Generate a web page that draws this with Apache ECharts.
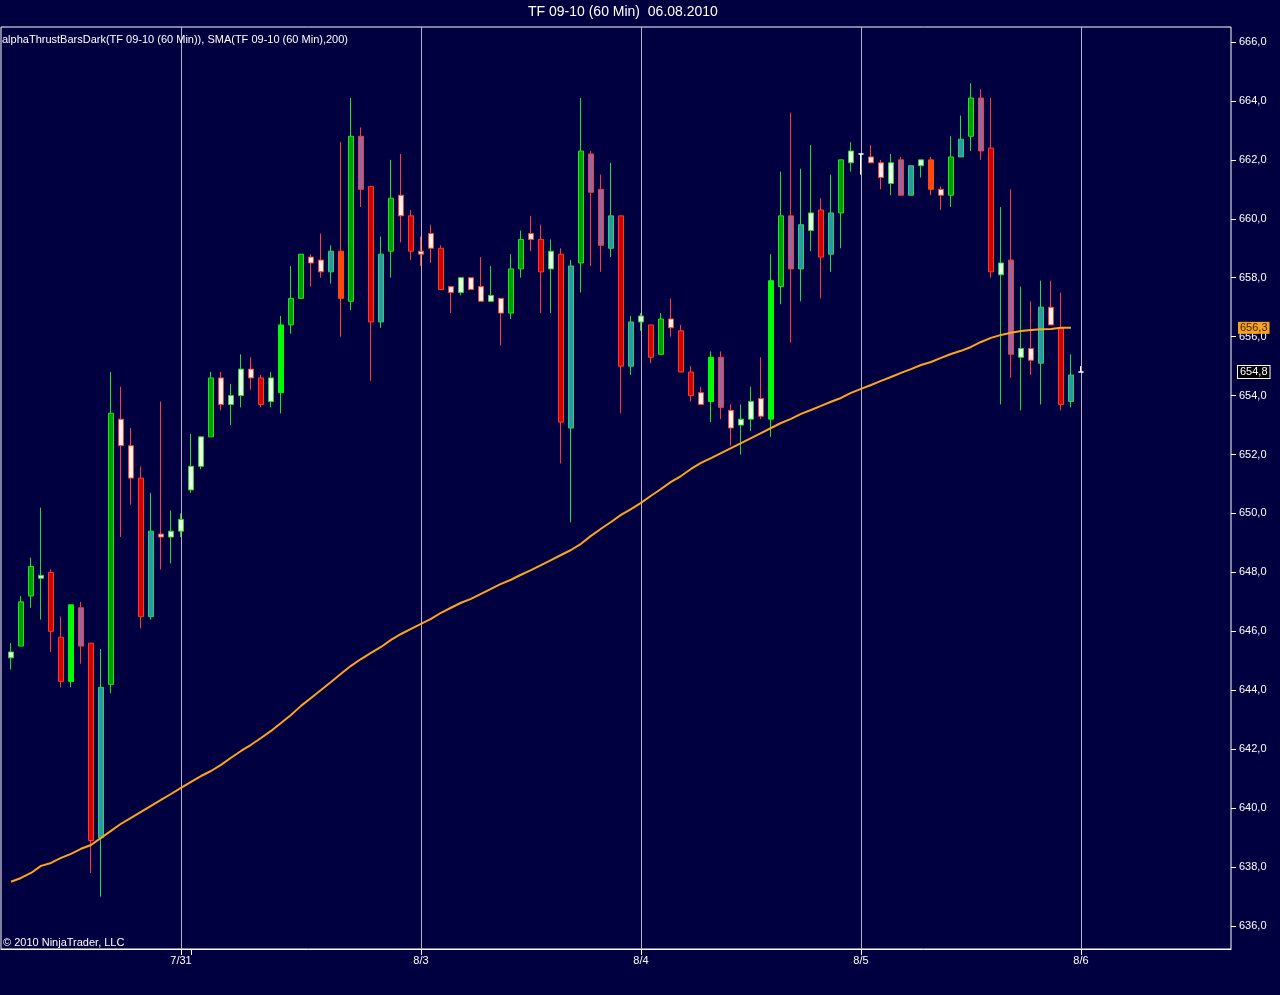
<!DOCTYPE html>
<html>
<head>
<meta charset="utf-8">
<title>TF 09-10 (60 Min)  06.08.2010</title>
<script src="https://cdn.jsdelivr.net/npm/echarts@6/dist/echarts.min.js"></script>
<style>
    html, body { margin: 0; padding: 0; background: #000040; }
    #chart { width: 1280px; height: 995px; }
</style>
</head>
<body>
<div id="chart"></div>
<script>
// TF 09-10, 60 min bars, 7/30 .. 8/6 (last bar just opened)
var opens = [
    645.1, 645.5, 647.2, 647.8, 648.0, 645.8, 644.3, 646.8, 645.6, 639.0,
    644.2, 653.2, 652.3, 651.2, 646.5, 649.3, 649.2, 649.4, 650.8, 651.6,
    652.6, 654.6, 653.7, 654.0, 654.9, 654.6, 653.8, 654.1, 656.4, 657.3,
    658.7, 658.6, 658.2, 658.9, 657.2, 662.8, 661.1, 656.5, 658.9, 660.8,
    660.1, 658.9, 659.5, 659.0, 657.7, 657.5, 658.0, 657.7, 657.2, 657.3,
    656.8, 658.3, 659.5, 659.3, 658.3, 658.8, 652.9, 658.5, 662.2, 661.0,
    659.0, 660.1, 655.0, 656.5, 656.4, 655.4, 656.6, 656.2, 654.8, 654.1,
    653.8, 655.3, 653.5, 653.0, 653.2, 653.9, 653.2, 657.7, 660.1, 658.3,
    659.6, 660.3, 658.8, 660.2, 661.9, 662.2, 662.1, 661.9, 661.2, 662.0,
    660.8, 661.8, 662.0, 661.0, 660.8, 662.1, 662.8, 664.1, 662.4, 658.1,
    658.6, 655.3, 655.6, 655.1, 657.0, 656.3, 653.8, 654.8
];
var closes = [
    645.3, 647.0, 648.2, 647.9, 646.0, 644.3, 646.9, 645.5, 638.9, 644.1,
    653.4, 652.3, 651.2, 646.5, 649.4, 649.2, 649.4, 649.8, 651.6, 652.6,
    654.6, 653.7, 654.0, 654.9, 654.6, 653.7, 654.6, 656.4, 657.3, 658.8,
    658.5, 658.2, 658.9, 657.3, 662.8, 661.0, 656.5, 658.8, 660.7, 660.1,
    658.9, 658.8, 659.0, 657.6, 657.5, 658.0, 657.6, 657.2, 657.4, 656.8,
    658.3, 659.3, 659.3, 658.2, 658.9, 653.1, 658.4, 662.3, 660.9, 659.1,
    660.1, 655.0, 656.5, 656.7, 655.3, 656.6, 656.3, 654.8, 654.0, 653.7,
    655.3, 653.6, 652.9, 653.2, 653.8, 653.3, 657.9, 660.1, 658.3, 659.8,
    660.2, 658.7, 660.2, 662.0, 662.3, 662.2, 661.9, 661.4, 661.9, 660.8,
    661.8, 662.0, 661.0, 660.8, 662.1, 662.7, 664.1, 662.3, 658.2, 658.5,
    655.4, 655.6, 655.2, 657.0, 656.4, 653.7, 654.7, 654.8
];
var highs = [
    645.6, 647.2, 648.5, 650.2, 648.1, 646.5, 646.9, 647.0, 645.6, 645.4,
    654.8, 654.3, 652.9, 651.6, 650.7, 653.8, 650.1, 650.0, 652.7, 652.6,
    654.8, 654.8, 654.4, 655.4, 655.3, 654.7, 654.8, 656.7, 658.4, 658.8,
    658.8, 659.5, 659.1, 662.6, 664.1, 663.1, 661.1, 659.4, 662.0, 662.2,
    660.3, 659.4, 659.8, 659.1, 657.7, 658.0, 658.0, 658.7, 658.4, 657.3,
    658.8, 659.6, 660.1, 659.8, 659.3, 659.0, 658.6, 664.1, 662.3, 661.5,
    661.9, 660.1, 656.7, 656.8, 656.4, 656.8, 657.3, 656.4, 655.0, 654.3,
    655.5, 655.5, 653.7, 653.7, 654.3, 655.3, 658.8, 661.6, 663.6, 661.7,
    662.5, 660.7, 661.5, 662.0, 662.6, 662.2, 662.5, 662.0, 662.2, 662.1,
    661.8, 662.0, 662.1, 661.1, 662.8, 663.5, 664.6, 664.4, 664.1, 660.4,
    661.0, 657.7, 657.2, 657.9, 657.9, 657.5, 655.4, 655.0
];
var lows = [
    644.7, 645.5, 646.8, 646.4, 645.3, 644.1, 644.1, 644.9, 637.8, 637.0,
    643.9, 649.2, 650.3, 646.1, 646.4, 648.1, 648.3, 649.2, 650.7, 651.5,
    652.6, 653.5, 653.0, 653.6, 654.2, 653.6, 653.6, 653.4, 656.1, 657.3,
    657.7, 658.0, 657.8, 656.0, 656.9, 660.4, 654.5, 656.3, 658.0, 659.2,
    658.6, 658.4, 658.5, 657.6, 656.8, 657.4, 657.6, 657.2, 657.2, 655.7,
    656.6, 658.0, 658.9, 656.8, 656.8, 651.7, 649.7, 657.5, 658.4, 658.2,
    658.7, 653.4, 654.7, 656.2, 655.1, 655.4, 656.0, 654.8, 653.8, 653.7,
    653.1, 653.2, 652.3, 652.0, 652.8, 653.2, 652.6, 657.1, 655.8, 657.2,
    658.9, 657.3, 658.2, 659.0, 661.6, 661.5, 661.9, 661.0, 660.8, 660.8,
    660.8, 661.4, 660.8, 660.3, 660.4, 662.1, 662.3, 662.0, 658.0, 653.7,
    654.6, 653.5, 654.7, 653.7, 656.4, 653.5, 653.6, 654.8
];
// alphaThrust class of every bar (G strong up, L lime, W small up, T teal up,
// R down, O orange down, w small down, P purple down, D doji)
var thrustClass = [
    'W','G','G','W','R','R','L','P','R','T',
    'G','w','w','R','T','w','W','W','W','W',
    'G','w','W','W','w','R','W','L','G','G',
    'w','w','T','O','G','P','R','T','G','w',
    'R','w','w','R','w','W','w','w','W','w',
    'G','G','w','R','W','R','T','G','P','P',
    'T','R','T','W','R','G','w','R','R','w',
    'L','P','w','W','W','w','L','G','P','T',
    'W','R','T','G','W','D','w','w','W','P',
    'T','W','O','w','G','T','G','P','R','W',
    'P','W','w','T','w','R','T','D'
];
// SMA(200) value under each bar
var sma200 = [
    637.50, 637.63, 637.80, 638.04, 638.14, 638.31, 638.45, 638.62, 638.75, 638.99,
    639.23, 639.47, 639.67, 639.87, 640.08, 640.28, 640.48, 640.69, 640.89, 641.09,
    641.26, 641.47, 641.71, 641.94, 642.15, 642.38, 642.62, 642.89, 643.16, 643.47,
    643.74, 644.01, 644.28, 644.56, 644.83, 645.06, 645.27, 645.47, 645.71, 645.91,
    646.08, 646.25, 646.42, 646.63, 646.80, 646.97, 647.10, 647.27, 647.44, 647.61,
    647.75, 647.92, 648.08, 648.25, 648.42, 648.59, 648.76, 648.97, 649.24, 649.48,
    649.71, 649.95, 650.15, 650.36, 650.60, 650.83, 651.07, 651.27, 651.51, 651.72,
    651.88, 652.05, 652.22, 652.39, 652.56, 652.73, 652.90, 653.07, 653.21, 653.38,
    653.51, 653.65, 653.79, 653.92, 654.09, 654.23, 654.36, 654.50, 654.63, 654.77,
    654.90, 655.04, 655.14, 655.28, 655.41, 655.52, 655.65, 655.82, 655.96, 656.06,
    656.13, 656.19, 656.23, 656.25, 656.26, 656.30, 656.30
];
// session start bars labelled on the time axis (slot 0 is left empty)
var dateSlots = [18, 42, 64, 86, 108];
var dateLabels = ['7/31', '8/3', '8/4', '8/5', '8/6'];
var extraTickSlots = [19];
var slotCount = 124;

var font = "'Liberation Sans', Arial, sans-serif";
var palette = {
    G: { fill: '#009c00', border: '#22e022' },
    L: { fill: '#00ff00', border: '#10f010' },
    W: { fill: '#f4fff4', border: '#22dd22' },
    T: { fill: '#3390b8', border: '#22dd44' },
    R: { fill: '#c80800', border: '#ff3a2a' },
    O: { fill: '#ff4810', border: '#ff4810' },
    w: { fill: '#fff4f0', border: '#ff4030' },
    P: { fill: '#8a6cae', border: '#ff3a2a' },
    D: { fill: '#ffffff', border: '#ffffff' }
};

var categories = [];
for (var k = 0; k < slotCount; k++) {
    var d = dateSlots.indexOf(k);
    categories.push(d >= 0 ? dateLabels[d] : String(k));
}
function isDateSlot(index) {
    return dateSlots.indexOf(index) >= 0;
}

var candles = opens.map(function(o, i) {
    var c = palette[thrustClass[i]];
    return {
        value: [i + 1, o, closes[i], lows[i], highs[i]],
        itemStyle: { color: c.fill, color0: c.fill, borderColor: c.border, borderColor0: c.border }
    };
});
var smaLine = sma200.map(function(v, i) { return [i + 1, v]; });

function comma(v) {
    return v.toFixed(1).replace('.', ',');
}

var myChart = echarts.init(document.getElementById('chart'));
var option = {
    backgroundColor: '#000040',
    animation: false,
    title: [{
        text: 'TF 09-10 (60 Min)  06.08.2010',
        left: 528, top: 5, padding: 0,
        textStyle: { color: '#ffffff', fontSize: 14, fontWeight: 'normal', fontFamily: font }
    }, {
        text: 'alphaThrustBarsDark(TF 09-10 (60 Min)), SMA(TF 09-10 (60 Min),200)',
        left: 2, top: 34, padding: 0,
        textStyle: { color: '#ffffff', fontSize: 11, fontWeight: 'normal', fontFamily: font }
    }, {
        text: '\u00a9 2010 NinjaTrader, LLC',
        left: 3, top: 937, padding: 0,
        textStyle: { color: '#ffffff', fontSize: 11, fontWeight: 'normal', fontFamily: font }
    }],
    grid: [
        // frame panel: border, time axis, session lines
        { left: 1, right: 49, top: 27, bottom: 46, show: true, borderColor: '#ffffff', borderWidth: 1 },
        // price panel
        { left: 1, right: 49, top: 42, bottom: 69 }
    ],
    xAxis: [{
        type: 'category',
        gridIndex: 0,
        data: categories,
        boundaryGap: false,
        axisLine: { lineStyle: { color: '#ffffff' } },
        axisTick: {
            interval: function(index) { return isDateSlot(index) || extraTickSlots.indexOf(index) >= 0; },
            length: 6,
            lineStyle: { color: '#ffffff' }
        },
        axisLabel: {
            interval: isDateSlot,
            color: '#ffffff',
            fontSize: 11,
            fontFamily: font,
            margin: 6,
            formatter: function(value) {
                return dateLabels.indexOf(value) >= 0 ? value : '';
            }
        },
        splitLine: { show: true, interval: isDateSlot, lineStyle: { color: '#b4b4c8', width: 1 } }
    }, {
        type: 'category',
        gridIndex: 1,
        data: categories,
        boundaryGap: false,
        show: false
    }],
    yAxis: [{
        type: 'value',
        gridIndex: 0,
        show: false,
        min: 0,
        max: 1
    }, {
        type: 'value',
        gridIndex: 1,
        position: 'right',
        min: 636,
        max: 666,
        interval: 2,
        axisLine: { show: false },
        axisTick: { show: true, length: 5, lineStyle: { color: '#ffffff' } },
        splitLine: { show: false },
        axisLabel: {
            color: '#ffffff',
            fontSize: 11,
            fontFamily: font,
            margin: 8,
            formatter: comma
        }
    }],
    series: [{
        name: 'alphaThrustBarsDark',
        type: 'candlestick',
        xAxisIndex: 1,
        yAxisIndex: 1,
        barWidth: 5,
        encode: { x: 0, y: [1, 2, 3, 4] },
        itemStyle: { borderWidth: 1 },
        data: candles,
        markLine: {
            silent: true,
            symbol: ['none', 'none'],
            lineStyle: { color: 'rgba(0,0,0,0)', type: 'solid', width: 1 },
            label: {
                show: true,
                position: 'end',
                distance: 7,
                color: '#ffffff',
                fontSize: 11,
                fontFamily: font,
                backgroundColor: '#000000',
                borderColor: '#ffffff',
                borderWidth: 1,
                padding: [1, 2, 0, 2],
                formatter: function(p) { return comma(p.value); }
            },
            data: [{ yAxis: closes[closes.length - 1] }]
        }
    }, {
        name: 'SMA',
        type: 'line',
        xAxisIndex: 1,
        yAxisIndex: 1,
        data: smaLine,
        symbol: 'none',
        lineStyle: { color: '#ffa41c', width: 2 },
        markLine: {
            silent: true,
            symbol: ['none', 'none'],
            lineStyle: { color: 'rgba(0,0,0,0)', type: 'solid', width: 1 },
            label: {
                show: true,
                position: 'end',
                distance: 7,
                color: '#3a2000',
                fontSize: 11,
                fontFamily: font,
                backgroundColor: '#f7a21b',
                padding: [1, 2, 0, 2],
                formatter: function(p) { return comma(p.value); }
            },
            data: [{ yAxis: sma200[sma200.length - 1] }]
        }
    }]
};

myChart.setOption(option);
</script>
</body>
</html>
